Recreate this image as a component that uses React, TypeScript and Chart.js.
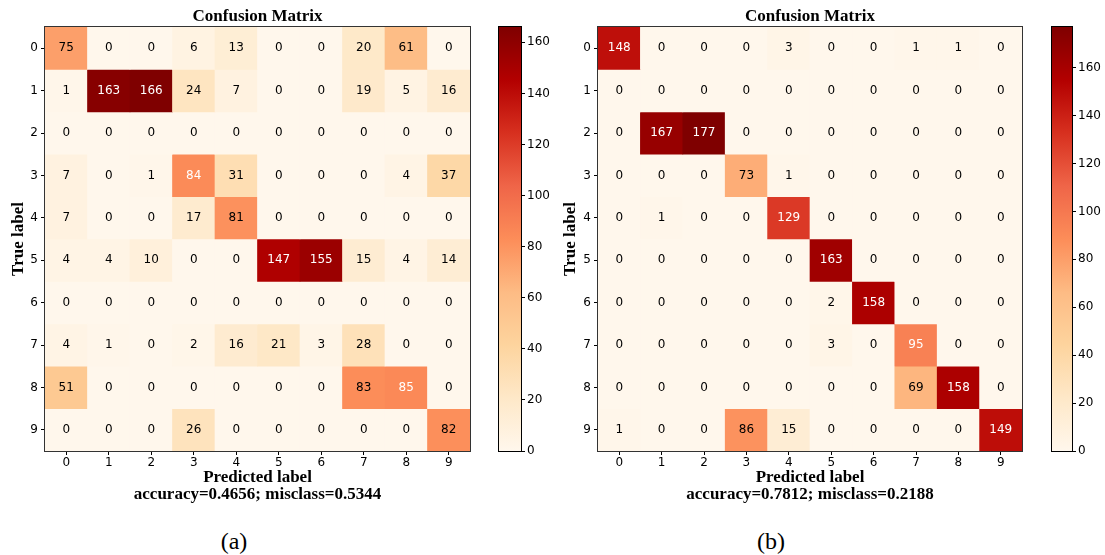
import React, { useEffect, useRef } from 'react';
import { Chart, registerables } from 'chart.js';

Chart.register(...registerables);

// Class labels shared by both axes
const CLASSES = ['0', '1', '2', '3', '4', '5', '6', '7', '8', '9'];

// Confusion matrix (a): rows = true label, columns = predicted label
const MATRIX_A: number[][] = [
  [75, 0, 0, 6, 13, 0, 0, 20, 61, 0],
  [1, 163, 166, 24, 7, 0, 0, 19, 5, 16],
  [0, 0, 0, 0, 0, 0, 0, 0, 0, 0],
  [7, 0, 1, 84, 31, 0, 0, 0, 4, 37],
  [7, 0, 0, 17, 81, 0, 0, 0, 0, 0],
  [4, 4, 10, 0, 0, 147, 155, 15, 4, 14],
  [0, 0, 0, 0, 0, 0, 0, 0, 0, 0],
  [4, 1, 0, 2, 16, 21, 3, 28, 0, 0],
  [51, 0, 0, 0, 0, 0, 0, 83, 85, 0],
  [0, 0, 0, 26, 0, 0, 0, 0, 0, 82],
];

// Confusion matrix (b)
const MATRIX_B: number[][] = [
  [148, 0, 0, 0, 3, 0, 0, 1, 1, 0],
  [0, 0, 0, 0, 0, 0, 0, 0, 0, 0],
  [0, 167, 177, 0, 0, 0, 0, 0, 0, 0],
  [0, 0, 0, 73, 1, 0, 0, 0, 0, 0],
  [0, 1, 0, 0, 129, 0, 0, 0, 0, 0],
  [0, 0, 0, 0, 0, 163, 0, 0, 0, 0],
  [0, 0, 0, 0, 0, 2, 158, 0, 0, 0],
  [0, 0, 0, 0, 0, 3, 0, 95, 0, 0],
  [0, 0, 0, 0, 0, 0, 0, 69, 158, 0],
  [1, 0, 0, 86, 15, 0, 0, 0, 0, 149],
];

const SUMMARY_A = 'accuracy=0.4656; misclass=0.5344';
const SUMMARY_B = 'accuracy=0.7812; misclass=0.2188';

// Colour bar tick values
const COLORBAR_TICKS = [0, 20, 40, 60, 80, 100, 120, 140, 160];

// OrRd colour map stops
const ORRD = ['#fff7ec', '#fee8c8', '#fdd49e', '#fdbb84', '#fc8d59', '#ef6548', '#d7301f', '#b30000', '#7f0000'];

const SERIF = "'Liberation Serif', 'Times New Roman', serif";
const SANS = "'DejaVu Sans', sans-serif";

function hexToRgb(h: string): number[] {
  return [1, 3, 5].map((i) => parseInt(h.slice(i, i + 2), 16));
}

function orrd(t: number): string {
  const tt = Math.max(0, Math.min(1, t)) * (ORRD.length - 1);
  const i = Math.min(Math.floor(tt), ORRD.length - 2);
  const f = tt - i;
  const a = hexToRgb(ORRD[i]);
  const b = hexToRgb(ORRD[i + 1]);
  const c = a.map((v, k) => Math.round(v + (b[k] - v) * f));
  return `rgb(${c[0]},${c[1]},${c[2]})`;
}

const CANVAS_H = 514;
const PLOT_TOP = 27;
const PLOT_BOTTOM = 451;

type PanelLayout = {
  canvasLeft: number;
  plotLeft: number;
  plotRight: number;
  cbarLeft: number;
  cbarRight: number;
  yTitleX: number;
  captionX: number;
};

const LAYOUT_A: PanelLayout = { canvasLeft: 0, plotLeft: 45, plotRight: 470, cbarLeft: 499, cbarRight: 521, yTitleX: 19, captionX: 234 };
const LAYOUT_B: PanelLayout = { canvasLeft: 550, plotLeft: 598, plotRight: 1022, cbarLeft: 1052, cbarRight: 1072, yTitleX: 571, captionX: 771 };

function MatrixChart({ matrix, summary, layout }: { matrix: number[][]; summary: string; layout: PanelLayout }) {
  const ref = useRef<HTMLCanvasElement>(null);
  const width = layout.plotRight + 2 - layout.canvasLeft;

  useEffect(() => {
    const max = Math.max(...matrix.flat());
    const thresh = max / 2;

    const datasets = matrix.map((row, r) => ({
      label: CLASSES[r],
      data: row.map(() => [r, r + 1] as [number, number]),
      backgroundColor: row.map((v) => orrd(v / max)),
      borderWidth: 0,
      grouped: false,
      barPercentage: 1,
      categoryPercentage: 1,
    }));

    const cellText = {
      id: 'cellText',
      afterDatasetsDraw(chart: any) {
        const { ctx, scales } = chart;
        ctx.save();
        ctx.font = `12px ${SANS}`;
        ctx.textAlign = 'center';
        ctx.textBaseline = 'middle';
        matrix.forEach((row, r) => {
          row.forEach((v, c) => {
            ctx.fillStyle = v > thresh ? '#ffffff' : '#000000';
            ctx.fillText(String(v), scales.x.getPixelForValue(c), scales.y.getPixelForValue(r + 0.5));
          });
        });
        ctx.restore();
      },
    };

    const frame = {
      id: 'frame',
      afterDraw(chart: any) {
        const { ctx, chartArea: a } = chart;
        ctx.save();
        ctx.strokeStyle = '#333333';
        ctx.lineWidth = 1;
        ctx.strokeRect(Math.round(a.left) - 0.5, Math.round(a.top) - 0.5, Math.round(a.right - a.left) + 1, Math.round(a.bottom - a.top) + 1);
        ctx.fillStyle = '#000';
        ctx.font = `bold 17px ${SERIF}`;
        ctx.textAlign = 'center';
        ctx.textBaseline = 'alphabetic';
        ctx.fillText('Confusion Matrix', (a.left + a.right) / 2, 21);
        ctx.restore();
      },
    };

    const chart = new Chart(ref.current as HTMLCanvasElement, {
      type: 'bar',
      data: { labels: CLASSES, datasets: datasets as any },
      options: {
        animation: false,
        responsive: false,
        events: [],
        layout: { padding: { top: PLOT_TOP, right: 2, left: 0, bottom: 0 } },
        plugins: { legend: { display: false }, tooltip: { enabled: false }, title: { display: false } },
        scales: {
          x: {
            type: 'category',
            offset: true,
            afterFit: (s: any) => { s.height = CANVAS_H - PLOT_BOTTOM; },
            grid: { offset: false, drawOnChartArea: false, drawTicks: true, tickLength: 4, tickColor: '#000', lineWidth: 1 },
            border: { display: false },
            ticks: { color: '#000', font: { family: SANS, size: 12 }, padding: 1, maxRotation: 0 },
            title: {
              display: true,
              text: ['Predicted label', summary],
              color: '#000',
              font: { family: SERIF, size: 17, weight: 'bold', lineHeight: 1 },
              padding: { top: 0, bottom: 10.5 },
            },
          },
          y: {
            type: 'linear',
            min: 0,
            max: CLASSES.length,
            reverse: true,
            afterBuildTicks: (s: any) => { s.ticks = CLASSES.map((_, i) => ({ value: i + 0.5 })); },
            afterFit: (s: any) => { s.width = layout.plotLeft - layout.canvasLeft; },
            grid: { drawOnChartArea: false, drawTicks: true, tickLength: 4, tickColor: '#000', lineWidth: 1 },
            border: { display: false },
            ticks: {
              color: '#000',
              font: { family: SANS, size: 12 },
              padding: 3,
              callback: (v: any) => CLASSES[Math.round(Number(v) - 0.5)],
            },
            title: {
              display: true,
              text: 'True label',
              color: '#000',
              font: { family: SERIF, size: 17, weight: 'bold', lineHeight: 1.2 },
              padding: { top: layout.yTitleX - layout.canvasLeft - 10.2, bottom: 0 },
            },
          },
        },
      },
      plugins: [cellText, frame],
    });
    return () => chart.destroy();
  }, [matrix, summary, layout]);

  return (
    <canvas
      ref={ref}
      width={width}
      height={CANVAS_H}
      style={{ position: 'absolute', left: layout.canvasLeft, top: 0, width, height: CANVAS_H }}
    />
  );
}

function ColorBar({ matrix, layout }: { matrix: number[][]; layout: PanelLayout }) {
  const ref = useRef<HTMLCanvasElement>(null);
  const left = layout.cbarLeft - 9;
  const width = 75;
  const height = 470;

  useEffect(() => {
    const max = Math.max(...matrix.flat());
    const outline = {
      id: 'outline',
      afterDraw(chart: any) {
        const { ctx, chartArea: a } = chart;
        ctx.save();
        ctx.strokeStyle = '#000';
        ctx.lineWidth = 1;
        ctx.strokeRect(Math.round(a.left) - 0.5, Math.round(a.top) - 0.5, Math.round(a.right - a.left) + 1, Math.round(a.bottom - a.top) + 1);
        ctx.restore();
      },
    };
    const chart = new Chart(ref.current as HTMLCanvasElement, {
      type: 'bar',
      data: {
        labels: [''],
        datasets: [
          {
            data: [[0, max]] as any,
            backgroundColor: (c: any) => {
              const a = c.chart.chartArea;
              if (!a) return ORRD[0];
              const g = c.chart.ctx.createLinearGradient(0, a.bottom, 0, a.top);
              ORRD.forEach((col, i) => g.addColorStop(i / (ORRD.length - 1), col));
              return g;
            },
            borderWidth: 0,
            barPercentage: 1,
            categoryPercentage: 1,
          },
        ],
      },
      options: {
        animation: false,
        responsive: false,
        events: [],
        layout: { padding: { top: PLOT_TOP, left: 9, bottom: height - PLOT_BOTTOM, right: 0 } },
        plugins: { legend: { display: false }, tooltip: { enabled: false } },
        scales: {
          x: { display: false },
          y: {
            position: 'right',
            min: 0,
            max,
            afterBuildTicks: (s: any) => { s.ticks = COLORBAR_TICKS.map((v) => ({ value: v })); },
            afterFit: (s: any) => { s.width = width - 9 - (layout.cbarRight - layout.cbarLeft); },
            grid: { drawOnChartArea: false, drawTicks: true, tickLength: 4, tickColor: '#000', lineWidth: 1 },
            border: { display: false },
            ticks: { color: '#000', font: { family: SANS, size: 12 }, padding: 2 },
          },
        },
      },
      plugins: [outline],
    });
    return () => chart.destroy();
  }, [matrix, layout]);

  return (
    <canvas ref={ref} width={width} height={height} style={{ position: 'absolute', left, top: 0, width, height }} />
  );
}

function Caption({ text, x }: { text: string; x: number }) {
  return (
    <div
      style={{
        position: 'absolute',
        left: x - 40,
        top: 526,
        width: 80,
        textAlign: 'center',
        fontFamily: SERIF,
        fontSize: 24,
        lineHeight: '30px',
        color: '#000',
      }}
    >
      {text}
    </div>
  );
}

export default function App() {
  return (
    <div style={{ position: 'absolute', left: 0, top: 0, width: 1105, height: 555, background: '#ffffff', overflow: 'hidden' }}>
      <MatrixChart matrix={MATRIX_A} summary={SUMMARY_A} layout={LAYOUT_A} />
      <ColorBar matrix={MATRIX_A} layout={LAYOUT_A} />
      <Caption text="(a)" x={LAYOUT_A.captionX} />
      <MatrixChart matrix={MATRIX_B} summary={SUMMARY_B} layout={LAYOUT_B} />
      <ColorBar matrix={MATRIX_B} layout={LAYOUT_B} />
      <Caption text="(b)" x={LAYOUT_B.captionX} />
    </div>
  );
}
